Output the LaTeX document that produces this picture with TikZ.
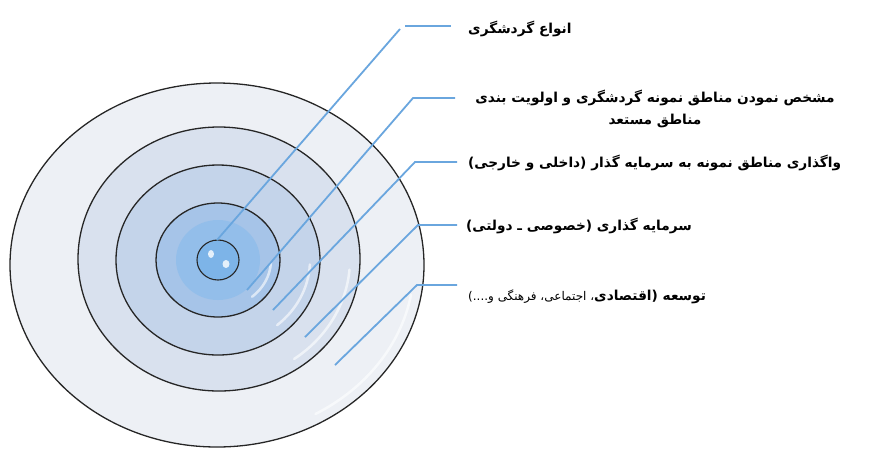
\documentclass[tikz,border=0pt]{standalone}
\usepackage{fontspec}
\TeXXeTstate=1
\newfontfamily\arabicfont[Script=Arabic]{DejaVu Sans}
\newfontfamily\arabicbold[Script=Arabic]{DejaVu Sans Bold}
\definecolor{ringA}{HTML}{EDF0F5}
\definecolor{ringB}{HTML}{D9E1EE}
\definecolor{ringC}{HTML}{C4D4EA}
\definecolor{ringD}{HTML}{A6C4E8}
\definecolor{ringE}{HTML}{93BEEA}
\definecolor{core}{HTML}{7DB4E8}
\definecolor{lead}{HTML}{6AA6DE}
\tikzset{
  ring/.style={draw=black!85, line width=1.3pt},
  leader/.style={draw=lead, line width=1.8pt},
  gloss/.style={draw=white, line width=2.5pt, opacity=0.6, line cap=round},
  lbl/.style={anchor=west, inner sep=0pt, font=\arabicbold\fontsize{13.7}{16}\selectfont},
}
\begin{document}
\begin{tikzpicture}[x=1pt,y=-1pt]
\useasboundingbox (0,0) rectangle (885,451);
% rings
\path[ring, fill=ringA] (217,265) ellipse [x radius=207, y radius=182];
\path[ring, fill=ringB] (219,259) ellipse [x radius=141, y radius=132];
\path[ring, fill=ringC] (218,260) ellipse [x radius=102, y radius=95];
\path[ring, fill=ringD] (218,260) ellipse [x radius=62, y radius=57];
\fill[ringE] (218,260) ellipse [x radius=42, y radius=40];
% gloss highlights (lower right, inside each ring)
\draw[gloss] (217,265) ++({197*cos(10)},{172*sin(10)}) arc [start angle=10, end angle=60, x radius=197, y radius=172];
\draw[gloss] (219,259) ++({131*cos(5)},{122*sin(5)}) arc [start angle=5, end angle=55, x radius=131, y radius=122];
\draw[gloss] (218,260) ++({92*cos(3)},{85*sin(3)}) arc [start angle=3, end angle=50, x radius=92, y radius=85];
\draw[gloss] (218,260) ++({53*cos(3)},{48*sin(3)}) arc [start angle=3, end angle=50, x radius=53, y radius=48];
% core
\path[ring, line width=1.1pt, fill=core] (218,260) ellipse [x radius=21, y radius=20];
\fill[white, opacity=0.8] (211,254) ellipse [x radius=3, y radius=4];
\fill[white, opacity=0.8] (226,264) ellipse [x radius=3.5, y radius=4];
% leader anchors
\coordinate (s1) at (217,240);
\coordinate (b1) at (400,29);
\coordinate (h1a) at (405,26);
\coordinate (h1b) at (451,26);
\coordinate (s2) at (247,290);
\coordinate (b2) at (413,98);
\coordinate (h2) at (455,98);
\coordinate (s3) at (273,310);
\coordinate (b3) at (415,162);
\coordinate (h3) at (457,162);
\coordinate (s4) at (305,337);
\coordinate (b4) at (418,225);
\coordinate (h4) at (457,225);
\coordinate (s5) at (335,365);
\coordinate (b5) at (417,285);
\coordinate (h5) at (457,285);
\draw[leader] (s1) -- (b1);
\draw[leader] (h1a) -- (h1b);
\draw[leader] (s2) -- (b2) -- (h2);
\draw[leader] (s3) -- (b3) -- (h3);
\draw[leader] (s4) -- (b4) -- (h4);
\draw[leader] (s5) -- (b5) -- (h5);
% labels
\node[lbl] (t1) at (468,29) {\beginR انواع گردشگری\endR};
\node[lbl, anchor=center, align=center, font=\arabicbold\fontsize{13.7}{22}\selectfont] (t2) at (655,109) {\beginR مشخص نمودن مناطق نمونه گردشگری و اولویت بندی\endR\\\beginR مناطق مستعد\endR};
\node[lbl] (t3) at (468,163) {\beginR واگذاری مناطق نمونه به سرمایه گذار (داخلی و خارجی)\endR};
\node[lbl] (t4) at (466,226) {\beginR سرمایه گذاری (خصوصی ـ دولتی)\endR};
\node[lbl] (t5) at (468,297) {\beginR توسعه (اقتصادی{\arabicfont\fontsize{12}{14}\selectfont، اجتماعی، فرهنگی و....)}\endR};
\end{tikzpicture}
\end{document}
